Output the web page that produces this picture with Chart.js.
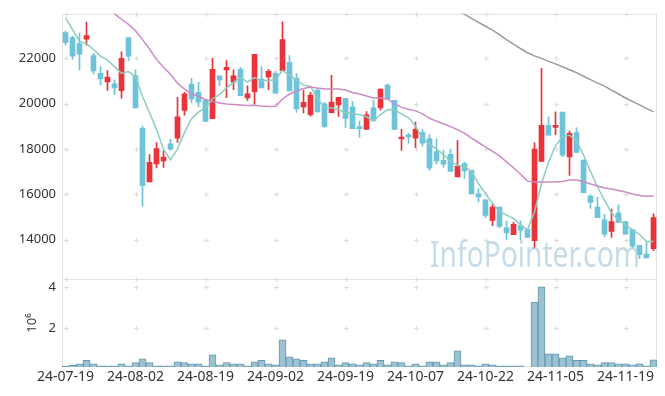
<!DOCTYPE html>
<html>
<head>
<meta charset="utf-8">
<script src="https://cdn.jsdelivr.net/npm/chart.js@4/dist/chart.umd.min.js"></script>
<style>
html, body { margin: 0; padding: 0; background: #fff; }
</style>
</head>
<body>
<canvas id="stock_chart" width="665" height="396"></canvas>
<script>
// trading days, 24-07-19 .. 24-11-25
var dates = ["24-07-19","24-07-22","24-07-23","24-07-24","24-07-25","24-07-26","24-07-29","24-07-30","24-07-31","24-08-01",
  "24-08-02","24-08-05","24-08-06","24-08-07","24-08-08","24-08-09","24-08-12","24-08-13","24-08-14","24-08-16",
  "24-08-19","24-08-20","24-08-21","24-08-22","24-08-23","24-08-26","24-08-27","24-08-28","24-08-29","24-08-30",
  "24-09-02","24-09-03","24-09-04","24-09-05","24-09-06","24-09-09","24-09-10","24-09-11","24-09-12","24-09-13",
  "24-09-19","24-09-20","24-09-23","24-09-24","24-09-25","24-09-26","24-09-27","24-09-30","24-10-02","24-10-04",
  "24-10-07","24-10-08","24-10-10","24-10-11","24-10-14","24-10-15","24-10-16","24-10-17","24-10-18","24-10-21",
  "24-10-22","24-10-23","24-10-24","24-10-25","24-10-28","24-10-29","24-10-30","24-10-31","24-11-01","24-11-04",
  "24-11-05","24-11-06","24-11-07","24-11-08","24-11-11","24-11-12","24-11-13","24-11-14","24-11-15","24-11-18",
  "24-11-19","24-11-20","24-11-21","24-11-22","24-11-25"];

var openP = [23140,22920,22650,22845,22130,21345,20965,20880,20570,22920,
  21230,18910,16550,17340,17470,18230,18475,19700,20865,20500,
  20150,19335,21225,21490,20950,21520,20250,20530,21085,21185,
  21345,21460,21825,21125,19860,19510,20600,19990,19600,19945,
  20240,19860,18920,18865,19815,19815,20820,20150,18440,18550,
  18475,18725,18460,17890,17500,17760,16770,17355,17060,16015,
  15750,14845,15430,14525,14210,14615,14440,13945,17455,19040,
  18955,19625,17645,18725,17510,15925,15430,14875,14355,15180,
  14790,14440,13740,13360,13595];
var closeP = [22690,22100,22190,23005,21445,21095,21170,20700,22000,22100,
  19815,16375,17410,18020,17645,17995,19420,20440,20210,20065,
  19215,21520,21050,21605,21225,20355,20440,22175,20700,21430,
  20470,22830,20560,19770,20065,20385,19640,18985,20075,20285,
  19345,18895,18897,19510,19235,20645,20220,18865,18460,18535,
  18865,18255,17150,17470,17325,17005,17235,17035,16015,15880,
  15065,15430,14585,14295,14675,14410,14090,17995,19040,18605,
  19040,17730,18690,17850,16070,15635,14965,14235,14790,14760,
  14235,13710,13335,13185,14965];
var highP = [23210,22980,23120,23600,22220,21640,21460,21050,22290,22920,
  21490,19015,17750,18285,17905,18435,20285,20500,21115,20940,
  20150,22000,21225,21900,21490,21605,20790,22175,21640,21520,
  21430,23620,22120,21330,20590,20500,20675,20065,21255,20285,
  20240,20090,19235,19655,20150,20645,20865,20150,18865,18695,
  19190,18865,18635,18435,17935,17995,18375,17425,17060,16245,
  15750,15575,15430,14820,14760,14820,14500,18285,21565,19410,
  19640,19625,18795,18930,17510,15985,15870,15110,15345,15530,
  14790,14440,13740,13885,15140];
var lowP = [22580,21960,21490,22580,21310,20830,20590,20415,20240,21900,
  19815,15475,16550,17160,17180,17935,18285,19495,20035,19860,
  19215,19335,20800,20265,20615,20355,20150,19975,20700,20615,
  20470,21460,20560,19630,19595,19450,19640,18955,19595,19435,
  18955,18895,18515,18865,19235,19715,20180,18865,17935,18240,
  18055,18140,17050,17340,17180,17005,16770,16700,16015,15665,
  14965,14615,14525,13990,14210,13970,14090,13625,17455,18605,
  18635,17645,16830,17850,16070,15370,14965,14120,14090,14760,
  14235,13625,13160,13185,13510];

// volume in millions of shares
var volume = [0.13,0.18,0.26,0.42,0.26,0.16,0.16,0.16,0.26,0.16,
  0.31,0.50,0.31,0.16,0.16,0.16,0.35,0.31,0.26,0.26,
  0.16,0.69,0.21,0.31,0.26,0.26,0.16,0.35,0.42,0.26,
  0.21,1.42,0.60,0.50,0.42,0.26,0.26,0.35,0.55,0.21,
  0.31,0.26,0.21,0.31,0.26,0.42,0.21,0.35,0.31,0.16,
  0.26,0.16,0.35,0.35,0.21,0.31,0.89,0.21,0.21,0.16,
  0.26,0.21,0.16,0.16,0.16,0.16,0.11,3.26,4.00,0.74,
  0.74,0.55,0.65,0.42,0.42,0.26,0.21,0.31,0.31,0.26,
  0.26,0.21,0.26,0.16,0.45];

// moving averages as drawn
var ma5 = [23790,23270,22765,22655,22395,22100,21925,21637,21345,21420,
  21200,20325,19600,18867,17993,17520,17993,18720,19334,19627,
  19815,20220,20413,20689,20938,21170,20951,21156,21025,21025,
  21052,21462,21257,21052,20820,20763,20252,19815,19815,19742,
  19597,19553,19509,19422,19247,19522,19742,19728,19553,19378,
  19014,18460,18211,17993,17748,17455,17267,17237,17005,16463,
  16026,15589,15257,15080,14935,14645,14427,15226,16463,17412,
  18141,18548,18605,18360,17730,17005,16319,15738,15183,14864,
  14645,14427,14235,13915,13915];
var ma20 = [null,null,null,null,null,null,24200,23967,23730,23503,
  23225,22830,22415,21956,21607,21300,20907,20645,20450,20317,
  20187,20100,20033,19990,19968,19946,19924,19933,19902,19880,
  19890,20208,20427,20558,20667,20733,20689,20645,20645,20645,
  20602,20492,20427,20340,20252,20252,20208,19990,19837,19750,
  19684,19553,19356,19225,19116,18985,18854,18702,18483,18286,
  18090,17892,17696,17433,17171,16887,16580,16537,16537,16537,
  16537,16560,16625,16625,16560,16450,16363,16275,16232,16166,
  16100,16013,15947,15913,15926];
var ma60 = [null,null,null,null,null,null,null,null,null,null,
  null,null,null,null,null,null,null,null,null,null,
  null,null,null,null,null,null,null,null,null,null,
  null,null,null,null,null,null,null,null,null,null,
  null,null,null,null,null,null,null,null,null,null,
  null,null,null,null,null,null,24120,23945,23770,23595,
  23420,23245,23050,22830,22634,22437,22250,22110,22000,21870,
  21760,21630,21500,21370,21213,21060,20907,20776,20601,20427,
  20252,20100,19946,19793,19640];

var priceTicks = [14000, 16000, 18000, 20000, 22000];
var volTicks = [2, 4];

var upColor = "#ea3339";
var downColor = "#6dc3da";
var candleColors = openP.map(function(o, i) { return closeP[i] >= o ? upColor : downColor; });
var wicks = lowP.map(function(l, i) { return [l, highP[i]]; });
var bodies = openP.map(function(o, i) { return [o, closeP[i]]; });

// light frame and little "+" marks on the tick grid
var frame = {
  id: "frame",
  beforeDatasetsDraw: function(chart) {
    var ctx = chart.ctx, a = chart.chartArea;
    var x = chart.scales.x, y = chart.scales.y, v = chart.scales.vol;
    ctx.save();
    ctx.strokeStyle = "#e2e2e2";
    ctx.lineWidth = 1;
    var mid = Math.round(y.bottom) + 0.5;
    ctx.beginPath();
    ctx.moveTo(a.left + 0.5, a.top); ctx.lineTo(a.left + 0.5, a.bottom);
    ctx.moveTo(a.right - 0.5, a.top); ctx.lineTo(a.right - 0.5, a.bottom);
    ctx.moveTo(a.left, a.top + 0.5); ctx.lineTo(a.right, a.top + 0.5);
    ctx.moveTo(a.left, mid); ctx.lineTo(a.right, mid);
    ctx.stroke();

    var xs = [];
    for (var i = 0; i < dates.length; i += 10) xs.push(Math.round(x.getPixelForValue(i)) + 0.5);
    var ys = [a.top, y.bottom];
    priceTicks.forEach(function(t) { ys.push(y.getPixelForValue(t)); });
    volTicks.forEach(function(t) { ys.push(v.getPixelForValue(t)); });
    ctx.strokeStyle = "#dcdcdc";
    ctx.beginPath();
    xs.forEach(function(px) {
      ys.forEach(function(py) {
        py = Math.round(py) + 0.5;
        ctx.moveTo(px - 2.5, py); ctx.lineTo(px + 2.5, py);
        ctx.moveTo(px, py - 2.5); ctx.lineTo(px, py + 2.5);
      });
    });
    ctx.stroke();
    ctx.restore();
  },
  afterDatasetsDraw: function(chart) {
    var ctx = chart.ctx;
    ctx.save();
    ctx.font = "36px 'Noto Sans'";
    ctx.fillStyle = "rgba(150,190,212,0.55)";
    ctx.textBaseline = "alphabetic";
    var txt = "InfoPointer.com";
    var w = ctx.measureText(txt).width;
    ctx.translate(430, 267);
    ctx.scale(210 / w, 1);
    ctx.fillText(txt, 0, 0);
    ctx.restore();
  }
};

var tickFont = { family: "'Noto Sans'", size: 13 };
var dateFont = { family: "'Noto Sans'", size: 14 };
var plainLabel = function(value) { return String(value); };
var ctx = document.getElementById("stock_chart").getContext("2d");

new Chart(ctx, {
  data: {
    labels: dates,
    datasets: [
      { type: "line", data: ma60, yAxisID: "y", borderColor: "#9a9a9a", borderWidth: 1.5, pointRadius: 0, tension: 0, order: 1 },
      { type: "line", data: ma20, yAxisID: "y", borderColor: "#cc8ac4", borderWidth: 1.5, pointRadius: 0, tension: 0, order: 1 },
      { type: "line", data: ma5, yAxisID: "y", borderColor: "#8bcdbf", borderWidth: 1.5, pointRadius: 0, tension: 0, order: 1 },
      { type: "bar", data: bodies, yAxisID: "y", backgroundColor: candleColors, barThickness: 5, minBarLength: 2, grouped: false, order: 2 },
      { type: "bar", data: wicks, yAxisID: "y", backgroundColor: candleColors, barThickness: 1, grouped: false, order: 3 },
      { type: "bar", data: volume, yAxisID: "vol", backgroundColor: "#9cc2d2", borderColor: "#6598b0", borderWidth: 1,
        categoryPercentage: 1, barPercentage: 1, grouped: false, order: 4 }
    ]
  },
  options: {
    responsive: false,
    animation: false,
    layout: { padding: { top: 10, right: 8, left: 0, bottom: 0 } },
    plugins: { legend: { display: false }, tooltip: { enabled: false } },
    scales: {
      x: {
        type: "category",
        offset: true,
        grid: { display: false, drawTicks: false },
        border: { display: false },
        ticks: {
          autoSkip: false, maxRotation: 0, padding: 2, color: "#333", font: dateFont,
          callback: function(val, idx) { return idx % 10 === 0 ? dates[idx] : ""; }
        },
        afterFit: function(s) { s.height = 29; }
      },
      vol: {
        position: "left", stack: "panels", stackWeight: 89,
        min: 0.1, max: 4.39,
        grid: { display: false, drawTicks: false },
        border: { display: false },
        title: { display: true, text: "10\u2076", color: "#333", font: tickFont, padding: { top: 24, bottom: 0 } },
        ticks: { padding: 6, color: "#333", font: tickFont, callback: plainLabel },
        afterBuildTicks: function(s) { s.ticks = volTicks.map(function(t) { return { value: t }; }); },
        afterFit: function(s) { s.width = 62; }
      },
      y: {
        position: "left", stack: "panels", stackWeight: 268,
        min: 12260, max: 23970,
        grid: { display: false, drawTicks: false },
        border: { display: false },
        ticks: { padding: 6, color: "#333", font: tickFont, callback: plainLabel },
        afterBuildTicks: function(s) { s.ticks = priceTicks.map(function(t) { return { value: t }; }); },
        afterFit: function(s) { s.width = 62; }
      }
    }
  },
  plugins: [frame]
});
</script>
</body>
</html>
